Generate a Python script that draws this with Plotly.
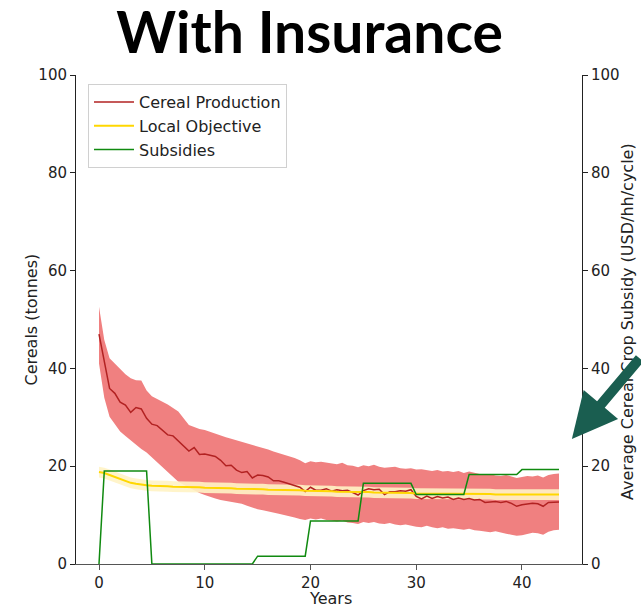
import numpy as np
import plotly.graph_objects as go

# ---- data (x every half year = one cycle) ----
years = [i * 0.5 for i in range(88)]

cereal_mean = [
    47.0, 41.4, 35.9, 34.9, 33.1, 32.5, 31.0, 32.0, 31.7, 29.8,
    28.6, 28.3, 27.4, 26.4, 26.2, 25.2, 24.2, 23.1, 23.8, 22.4,
    22.5, 22.3, 22.0, 21.2, 20.1, 20.2, 19.2, 18.7, 18.9, 17.6,
    18.2, 18.1, 17.8, 17.0, 17.0, 16.7, 16.4, 16.0, 15.7, 14.8,
    15.7, 15.1, 15.1, 15.4, 14.9, 15.2, 15.0, 15.1, 14.6, 14.1,
    15.0, 15.4, 15.2, 15.3, 14.2, 14.8, 14.8, 15.0, 14.9, 15.2,
    13.8, 13.3, 13.9, 13.4, 13.8, 13.5, 13.7, 13.2, 13.5, 13.2,
    13.4, 13.1, 13.2, 12.6, 12.7, 12.8, 12.6, 12.8, 12.4, 11.8,
    12.1, 12.3, 12.4, 12.3, 11.8, 12.6, 12.7, 12.7,
]

cereal_upper = [
    52.6, 45.8, 42.1, 41.0, 40.0, 38.8, 38.0, 37.6, 37.5, 35.5,
    34.3, 33.8, 33.2, 32.6, 31.9, 31.2, 29.8, 28.4, 28.0, 27.6,
    27.4, 27.0, 26.6, 26.2, 25.9, 25.6, 25.3, 25.0, 24.6, 24.3,
    24.0, 23.7, 23.4, 23.0, 22.7, 22.3, 22.0, 21.7, 21.2, 20.6,
    21.0, 20.8, 20.9, 20.7, 20.6, 20.4, 20.7, 20.2, 20.1, 19.8,
    20.2, 20.0, 20.3, 19.9, 19.7, 19.8, 19.9, 19.6, 19.5, 19.6,
    19.3, 19.4, 19.2, 19.0, 19.2, 18.9, 19.0, 18.8, 19.0, 18.6,
    18.9, 18.6, 18.4, 18.2, 18.4, 18.1, 18.0, 18.2, 17.9, 17.6,
    17.8, 18.0, 17.9, 18.1, 17.7, 18.2, 18.4, 18.5,
]

cereal_lower = [
    41.0, 34.0, 30.1, 28.5, 27.1, 26.2, 25.3, 24.4, 23.5, 22.8,
    21.8, 20.8, 19.9, 18.9, 17.8, 16.8, 16.2, 15.6, 15.0, 14.5,
    14.1, 13.7, 13.4, 13.1, 12.9, 12.7, 12.6, 12.3, 11.9, 11.5,
    11.2, 11.0, 10.8, 10.6, 10.3, 10.0, 9.8, 9.5, 9.2, 9.0,
    9.3, 9.1, 9.3, 9.0, 8.9, 8.7, 8.9, 8.5, 8.4, 8.2,
    8.6, 8.4, 8.6, 8.3, 8.2, 8.4, 8.1, 7.9, 8.1, 7.8,
    7.6, 7.5, 7.8, 7.5, 7.3, 7.5, 7.2, 7.3, 7.1, 7.0,
    7.2, 6.9, 6.8, 6.6, 6.5, 6.7, 6.4, 6.2, 6.0, 5.8,
    5.9, 6.2, 6.4, 6.3, 6.0, 6.6, 6.9, 7.0,
]

objective = [
    18.8, 18.6, 18.2, 17.8, 17.3, 16.9, 16.6, 16.4, 16.2, 16.1,
    16.0, 16.0, 15.9, 15.9, 15.8, 15.8, 15.8, 15.7, 15.7, 15.7,
    15.6, 15.6, 15.6, 15.5, 15.5, 15.5, 15.4, 15.4, 15.4, 15.3,
    15.3, 15.3, 15.2, 15.2, 15.2, 15.2, 15.1, 15.1, 15.1, 15.0,
    15.0, 15.0, 14.9, 14.9, 14.9, 14.8, 14.8, 14.8, 14.7, 14.7,
    14.7, 14.7, 14.6, 14.6, 14.6, 14.6, 14.5, 14.5, 14.5, 14.5,
    14.4, 14.4, 14.4, 14.4, 14.4, 14.3, 14.3, 14.3, 14.3, 14.3,
    14.3, 14.3, 14.3, 14.3, 14.3, 14.2, 14.2, 14.2, 14.2, 14.2,
    14.2, 14.2, 14.2, 14.2, 14.2, 14.2, 14.2, 14.2,
]
objective_spread = 1.1

subsidies = (
    [0.0] + [19.0] * 9 + [0.0] * 20 + [1.6] * 10 + [8.8] * 10
    + [16.5] * 10 + [14.2] * 10 + [18.3] * 10 + [19.3] * 8
)

x_ticks = [0, 10, 20, 30, 40]
y_ticks = [0, 20, 40, 60, 80, 100]

# ---- figure ----
obj_up = [v + objective_spread for v in objective]
obj_lo = [v - objective_spread for v in objective]

fig = go.Figure()

fig.add_trace(go.Scatter(x=years, y=cereal_lower, mode="lines", line=dict(width=0, color="#f08080"),
                         showlegend=False, hoverinfo="skip"))
fig.add_trace(go.Scatter(x=years, y=cereal_upper, mode="lines", line=dict(width=0, color="#f08080"),
                         fill="tonexty", fillcolor="#f08080", showlegend=False, hoverinfo="skip"))
fig.add_trace(go.Scatter(x=years, y=obj_lo, mode="lines", line=dict(width=0, color="#fff3c4"),
                         showlegend=False, hoverinfo="skip"))
fig.add_trace(go.Scatter(x=years, y=obj_up, mode="lines", line=dict(width=0, color="#fff3c4"),
                         fill="tonexty", fillcolor="rgba(255,243,196,0.9)", showlegend=False, hoverinfo="skip"))

fig.add_trace(go.Scatter(x=years, y=cereal_mean, mode="lines", name="Cereal Production",
                         line=dict(color="#b22222", width=1.5)))
fig.add_trace(go.Scatter(x=years, y=objective, mode="lines", name="Local Objective",
                         line=dict(color="#ffd700", width=2)))
fig.add_trace(go.Scatter(x=years, y=subsidies, mode="lines", name="Subsidies",
                         line=dict(color="#108a10", width=1.5), yaxis="y2"))

tickfont = dict(family="DejaVu Sans", size=15, color="#222")
titlefont = dict(family="DejaVu Sans", size=16, color="#222")

fig.update_layout(
    width=641, height=608,
    margin=dict(l=76, r=59, t=75, b=44),
    paper_bgcolor="white", plot_bgcolor="white",
    title=dict(text="<b>With Insurance</b>", x=0.483, xref="container", xanchor="center",
               y=0.979, yref="container", yanchor="top",
               font=dict(family="Lato", size=57, color="black")),
    xaxis=dict(range=[-2.175, 45.675], tickvals=x_ticks, ticks="outside", ticklen=5,
               tickcolor="#555", showline=True, linecolor="#555", linewidth=1,
               showgrid=False, zeroline=False, tickfont=tickfont, automargin=False),
    yaxis=dict(range=[0, 100], tickvals=y_ticks, ticks="outside", ticklen=5,
               tickcolor="#222", showline=True, linecolor="#222", linewidth=1,
               showgrid=False, zeroline=False, tickfont=tickfont, automargin=False),
    yaxis2=dict(range=[0, 100], tickvals=y_ticks, ticks="outside", ticklen=5,
                tickcolor="#222", showline=True, linecolor="#222", linewidth=1,
                overlaying="y", side="right", showgrid=False, zeroline=False,
                tickfont=tickfont, automargin=False),
    legend=dict(x=0.0237, y=0.9816, xanchor="left", yanchor="top",
                bgcolor="white", bordercolor="#d0d0d0", borderwidth=1,
                font=dict(family="DejaVu Sans", size=16, color="#222"),
                traceorder="normal", tracegroupgap=0, itemwidth=40),
    showlegend=True,
)

# axis titles
fig.add_annotation(xref="paper", yref="paper", x=0.502, y=-0.071, xanchor="center", yanchor="middle",
                   text="Years", showarrow=False, font=titlefont)
fig.add_annotation(xref="paper", yref="paper", x=-0.087, y=0.5, xanchor="center", yanchor="middle",
                   text="Cereals (tonnes)", textangle=-90, showarrow=False, font=titlefont)
fig.add_annotation(xref="paper", yref="paper", x=1.091, y=0.495, xanchor="center", yanchor="middle",
                   text="Average Cereal Crop Subsidy (USD/hh/cycle)", textangle=-90,
                   showarrow=False, font=titlefont)

fig.add_annotation(
    xref="paper", yref="paper", x=0.980, y=0.2556,
    ax=95, ay=-82, axref="pixel", ayref="pixel",
    showarrow=True, arrowhead=2, arrowsize=0.9, arrowwidth=10,
    arrowcolor="#1a5e50", text="",
)

fig.write_html("out.html", config={"displayModeBar": False},
               post_script="document.body.style.margin='0';document.body.style.padding='0';")
